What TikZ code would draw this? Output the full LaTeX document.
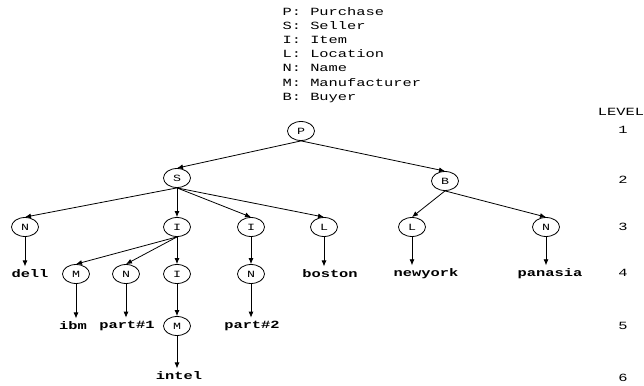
\documentclass[tikz,border=0pt]{standalone}
\usepackage{fontspec}
\setmonofont[FakeStretch=1.4]{Liberation Mono}
\usetikzlibrary{shapes.geometric,arrows.meta}

\begin{document}
\begin{tikzpicture}[x=1pt,y=-1pt,>={Latex[length=6pt,width=5pt]},
    font=\ttfamily\fontsize{11}{14.2}\selectfont]
\useasboundingbox (0,0) rectangle (644,385);
% legend and level column
\node[anchor=north west,align=left] (key) at (279,3.5)
    {P: Purchase\\S: Seller\\I: Item\\L: Location\\N: Name\\M: Manufacturer\\B: Buyer};
\node (lvl) at (621,112) {LEVEL};
\node (lv1) at (623,130) {1};
\node (lv2) at (623,180) {2};
\node (lv3) at (623,227) {3};
\node (lv4) at (623,273) {4};
\node (lv5) at (623,326) {5};
\node (lv6) at (623,378) {6};
\begin{scope}[every node/.style={ellipse,draw,line width=0.8pt,inner sep=0pt,
    minimum width=27pt,minimum height=19pt,font=\ttfamily\fontsize{9.5}{10}\selectfont}]
    \node (p) at (301,131) {P};
    \node (s) at (177,178) {S};
    \node (b) at (445,181) {B};
    \node (sn) at (25,227) {N};
    \node (si1) at (177,227) {I};
    \node (si2) at (251,227) {I};
    \node (sl) at (324,227) {L};
    \node (bl) at (412,227) {L};
    \node (bn) at (546,227) {N};
    \node (im) at (76,274) {M};
    \node (in) at (126,274) {N};
    \node (ii) at (177,274) {I};
    \node (n2) at (251,274) {N};
    \node (iim) at (177,326) {M};
\end{scope}
\begin{scope}[every node/.style={font=\ttfamily\bfseries\fontsize{11}{13}\selectfont}]
    \node (dell) at (30,274) {dell};
    \node (boston) at (330,274) {boston};
    \node (newyork) at (426,274) {newyork};
    \node (panasia) at (550,274) {panasia};
    \node (ibm) at (73,326) {ibm};
    \node (part1) at (127,326) {part\#1};
    \node (part2) at (252,326) {part\#2};
    \node (intel) at (179,376) {intel};
\end{scope}
\begin{scope}[every edge/.style={draw=black,line width=0.8pt}]
    \path [->] (p.south) edge (s.north);
    \path [->] (p.south) edge (b.north);
    \path [->] (s.south) edge (sn.north);
    \path [->] (s.south) edge (si1.north);
    \path [->] (s.south) edge (si2.north);
    \path [->] (s.south) edge (sl.north);
    \path [->] (b.south) edge (bl.north);
    \path [->] (b.south) edge (bn.north);
    \path [->] (si1.south) edge (im.north);
    \path [->] (si1.south) edge (in.north);
    \path [->] (si1.south) edge (ii.north);
    \path [->] (si2.south) edge (n2.north);
    \path [->] (ii.south) edge (iim.north);
    \path [->] (sn.south) edge (sn.south |- dell.north);
    \path [->] (sl.south) edge (sl.south |- boston.north);
    \path [->] (bl.south) edge (bl.south |- newyork.north);
    \path [->] (bn.south) edge (bn.south |- panasia.north);
    \path [->] (im.south) edge (im.south |- ibm.north);
    \path [->] (in.south) edge (in.south |- part1.north);
    \path [->] (n2.south) edge (n2.south |- part2.north);
    \path [->] (iim.south) edge (iim.south |- intel.north);
\end{scope}
\end{tikzpicture}
\end{document}
